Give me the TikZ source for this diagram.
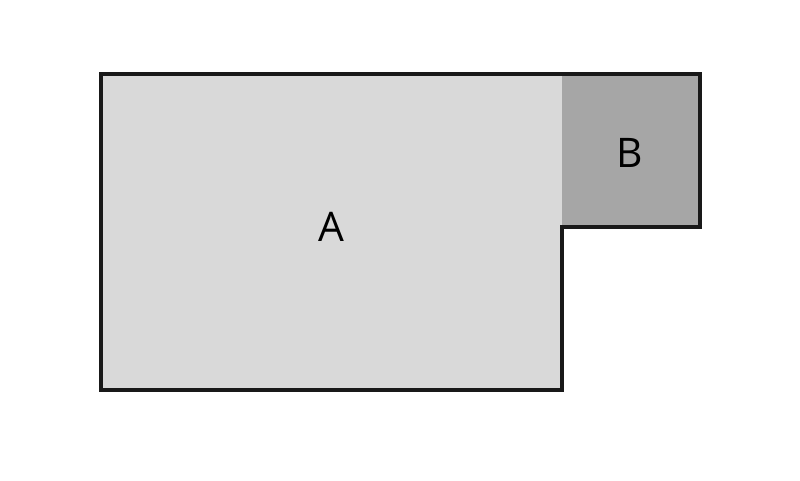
\documentclass[tikz,border=0pt]{standalone}
\usepackage{fontspec}
\setmainfont{Open Sans}
\tikzset{
  roomA/.style={fill=gray!30},
  roomB/.style={fill=gray!70},
  wall/.style={line width=2.9pt,draw=black!90,line join=miter,line cap=rect},
  roomlabel/.style={font=\fontsize{29}{30}\selectfont}
}
\begin{document}
\begin{tikzpicture}[x=0.025cm,y=-0.025cm]
  \useasboundingbox (0,0) rectangle (800,480);
  % rooms
  \fill[roomA] (101,74) rectangle (562,390);
  \fill[roomB] (562,74) rectangle (700,227);
  % outline
  \draw[wall] (101,74) -- (700,74) -- (700,227) -- (562,227) -- (562,390) -- (101,390) -- cycle;
  \node[roomlabel] (A) at (331,227) {A};
  \node[roomlabel] (B) at (630,153) {B};
\end{tikzpicture}
\end{document}
